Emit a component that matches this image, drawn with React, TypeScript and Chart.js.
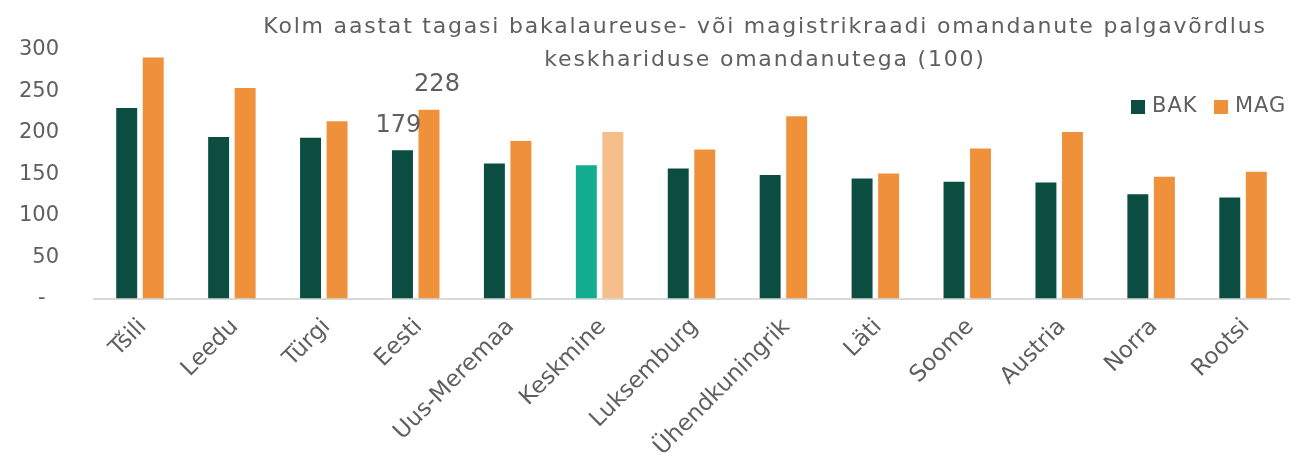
import React, { useEffect, useRef } from "react";
import { Chart, registerables } from "chart.js";

Chart.register(...registerables);

const categories = [
  "Tšili", "Leedu", "Türgi", "Eesti", "Uus-Meremaa", "Keskmine", "Luksemburg",
  "Ühendkuningrik", "Läti", "Soome", "Austria", "Norra", "Rootsi",
];
const bakValues = [230, 195, 194, 179, 163, 161, 157, 149, 145, 141, 140, 126, 122];
const magValues = [291, 254, 214, 228, 190, 201, 180, 220, 151, 181, 201, 147, 153];
const yTicks = [0, 50, 100, 150, 200, 250, 300];
const titleLines = [
  "Kolm aastat tagasi bakalaureuse- või magistrikraadi omandanute palgavõrdlus",
  "keskhariduse omandanutega (100)",
];
const seriesNames = ["BAK", "MAG"];
const labelledCategory = "Eesti";
const highlightCategory = "Keskmine";

const BAK = "#0B4D40";
const MAG = "#EF913B";
const BAK_HI = "#12AD90";
const MAG_HI = "#F5BE8A";
const TEXT = "#5F5F5F";
const FONT = "'DejaVu Sans', sans-serif";

const overlay = {
  id: "overlay",
  afterDraw(chart: any) {
    const ctx = chart.ctx;
    ctx.save();
    ctx.fillStyle = TEXT;
    ctx.textBaseline = "middle";

    // title
    ctx.letterSpacing = "1.8px";
    ctx.font = `22px ${FONT}`;
    ctx.textAlign = "center";
    ctx.fillText(titleLines[0], 765, 27);
    ctx.fillText(titleLines[1], 765, 60);

    // legend
    ctx.letterSpacing = "1px";
    ctx.font = `21px ${FONT}`;
    ctx.textAlign = "left";
    ctx.fillStyle = BAK;
    ctx.fillRect(1131, 100, 14, 14);
    ctx.fillStyle = TEXT;
    ctx.fillText(seriesNames[0], 1152, 107);
    ctx.fillStyle = MAG;
    ctx.fillRect(1214, 100, 14, 14);
    ctx.fillStyle = TEXT;
    ctx.fillText(seriesNames[1], 1235, 107);

    // data labels
    ctx.letterSpacing = "0px";
    const idx = categories.indexOf(labelledCategory);
    ctx.font = `24px ${FONT}`;
    ctx.textAlign = "center";
    const b = chart.getDatasetMeta(0).data[idx];
    const m = chart.getDatasetMeta(1).data[idx];
    ctx.fillText(String(bakValues[idx]), b.x - 4, b.y - 24);
    ctx.fillText(String(magValues[idx]), m.x + 8, m.y - 25);
    ctx.restore();
  },
};

export default function App() {
  const ref = useRef<HTMLCanvasElement>(null);
  useEffect(() => {
    const hi = categories.indexOf(highlightCategory);
    const chart = new Chart(ref.current!, {
      type: "bar",
      data: {
        labels: categories,
        datasets: [
          {
            label: seriesNames[0],
            data: bakValues,
            backgroundColor: categories.map((_, i) => (i === hi ? BAK_HI : BAK)),
            barPercentage: 0.79,
            categoryPercentage: 0.577,
          },
          {
            label: seriesNames[1],
            data: magValues,
            backgroundColor: categories.map((_, i) => (i === hi ? MAG_HI : MAG)),
            barPercentage: 0.79,
            categoryPercentage: 0.577,
          },
        ],
      },
      options: {
        animation: false,
        responsive: false,
        maintainAspectRatio: false,
        layout: { padding: { top: 50, right: 8, bottom: 0, left: 0 } },
        plugins: {
          legend: { display: false },
          title: { display: false },
          tooltip: { enabled: false },
        },
        scales: {
          x: {
            grid: { display: false, drawTicks: false },
            border: { display: true, color: "#D9D9D9", width: 2 },
            ticks: {
              color: TEXT,
              font: { family: FONT, size: 23 },
              minRotation: 45,
              maxRotation: 45,
              padding: 15,
              labelOffset: 3,
              autoSkip: false,
            },
            afterFit: (s: any) => {
              s.height = 162.5;
            },
          },
          y: {
            min: 0,
            max: 300,
            afterBuildTicks: (s: any) => {
              s.ticks = yTicks.map((v) => ({ value: v }));
            },
            grid: { display: false, drawTicks: false },
            border: { display: false },
            ticks: {
              color: TEXT,
              font: { family: FONT, size: 21 },
              padding: 35,
              callback: (v: any) => (v === 0 ? "-  " : String(v)),
            },
            afterFit: (s: any) => {
              s.width = 94;
            },
          },
        },
      },
      plugins: [overlay],
    });
    return () => chart.destroy();
  }, []);
  return (
    <div style={{ position: "fixed", left: 0, top: 0, width: 1297, height: 461, background: "#fff" }}>
      <canvas ref={ref} width={1297} height={461} style={{ display: "block" }} />
    </div>
  );
}
